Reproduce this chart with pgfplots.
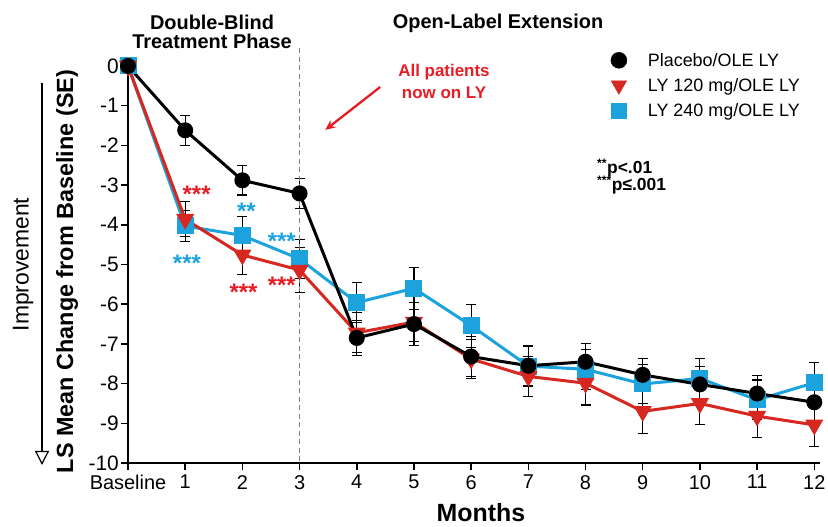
\documentclass[border=0pt]{standalone}
\usepackage{pgfplots}
\pgfplotsset{compat=1.18}
\usepackage{pgfplotstable}
\usepackage{fontspec}
\setmainfont{Liberation Sans}
\usetikzlibrary{arrows.meta}
\definecolor{lyred}{RGB}{214,40,32}
\definecolor{lyblue}{RGB}{28,163,222}
\definecolor{annred}{RGB}{232,28,36}

\pgfplotstableread{
x y e
0 0 0
1 -1.62 0.38
2 -2.88 0.37
3 -3.21 0.38
4 -6.85 0.45
5 -6.50 0.55
6 -7.32 0.50
7 -7.55 0.50
8 -7.45 0.45
9 -7.78 0.42
10 -8.02 0.45
11 -8.25 0.45
12 -8.47 0.45
}\placebo

\pgfplotstableread{
x y e
0 0 0
1 -3.86 0.44
2 -4.76 0.50
3 -5.14 0.57
4 -6.72 0.50
5 -6.45 0.50
6 -7.38 0.50
7 -7.82 0.50
8 -7.99 0.55
9 -8.70 0.55
10 -8.50 0.52
11 -8.82 0.54
12 -9.04 0.55
}\lyonetwenty

\pgfplotstableread{
x y e
0 0 0
1 -4.03 0.40
2 -4.27 0.47
3 -4.86 0.49
4 -5.96 0.50
5 -5.60 0.53
6 -6.54 0.54
7 -7.56 0.50
8 -7.64 0.50
9 -8.01 0.50
10 -7.87 0.50
11 -8.41 0.50
12 -7.98 0.50
}\lytwoforty

\begin{document}
\begin{tikzpicture}
\path[use as bounding box] (0,0) rectangle (828bp,527bp);
\begin{axis}[
  at={(128bp,64bp)}, anchor=south west,
  scale only axis, width=692bp, height=401bp,
  xmin=0, xmax=12.1, ymin=-10, ymax=0.1,
  axis x line=bottom, axis y line=left,
  axis line style={-, line width=1.8bp, black},
  xtick={0,1,2,3,4,5,6,7,8,9,10,11,12},
  xticklabels={Baseline,1,2,3,4,5,6,7,8,9,10,11,12},
  ytick={0,-1,-2,-3,-4,-5,-6,-7,-8,-9,-10},
  yticklabels={0,-1,-2,-3,-4,-5,-6,-7,-8,-9,-10},
  tick align=outside, major tick length=7bp,
  tick style={black, line width=1.5bp},
  xticklabel style={font=\fontsize{20}{22}\selectfont, inner sep=5bp},
  yticklabel style={font=\fontsize{21}{23}\selectfont, inner sep=2bp},
  clip=false,
  legend style={draw=none, fill=none, at={(axis cs:8.44,0.38)}, anchor=north west,
    font=\fontsize{18}{20}\selectfont, inner sep=0pt, row sep=6.5bp,
    nodes={inner xsep=2bp, inner ysep=2bp},
    /tikz/every odd column/.append style={column sep=19bp}},
  legend cell align=left,
  error bars/y dir=both, error bars/y explicit,
  error bars/error bar style={black, line width=1.1bp},
  error bars/error mark options={rotate=90, black, mark size=5bp, line width=1.1bp},
]
\addlegendimage{only marks, mark=*, black, mark size=8bp}
\addlegendentry{Placebo/OLE LY}
\addlegendimage{only marks, mark=triangle*, lyred, mark size=9bp, mark options={rotate=180}}
\addlegendentry{LY 120 mg/OLE LY}
\addlegendimage{only marks, mark=square*, lyblue, mark size=7.5bp}
\addlegendentry{LY 240 mg/OLE LY}

\addplot[forget plot, lyblue, line width=3bp, mark=square*, mark size=7bp, mark options={lyblue}]
  table[x=x, y=y, y error=e] {\lytwoforty};
\addplot[forget plot, lyred, line width=3bp, mark=triangle*, mark size=7.5bp, mark options={lyred, rotate=180}]
  table[x=x, y=y, y error=e] {\lyonetwenty};
\addplot[forget plot, black, line width=3bp, mark=*, mark size=6.5bp, mark options={black}]
  table[x=x, y=y, y error=e] {\placebo};

% dashed separator and annotations
\draw[gray, line width=1.7bp, dash pattern=on 5bp off 3.5bp] (axis cs:3,0.45) -- (axis cs:3,-10);
\draw[annred, line width=2.3bp, -{Stealth[length=10bp,width=9bp]}] (axis cs:4.41,-0.53) -- (axis cs:3.45,-1.61);

\begin{scope}[every node/.style={font=\bfseries\fontsize{24}{24}\selectfont, inner sep=0pt}]
\node[annred] at (axis cs:1.20,-3.22) {***};
\node[lyblue] at (axis cs:2.07,-3.67) {**};
\node[lyblue] at (axis cs:1.03,-4.96) {***};
\node[lyblue] at (axis cs:2.69,-4.42) {***};
\node[annred] at (axis cs:2.02,-5.70) {***};
\node[annred] at (axis cs:2.69,-5.53) {***};
\end{scope}

\node[anchor=base west, font=\bfseries\fontsize{17.5}{19}\selectfont, inner sep=0pt] at (axis cs:8.2,-2.72) {\textsuperscript{**}p<.01};
\node[anchor=base west, font=\bfseries\fontsize{17.5}{19}\selectfont, inner sep=0pt] at (axis cs:8.2,-3.14) {\textsuperscript{***}p≤.001};
\end{axis}

% outer labels
\node[font=\bfseries\fontsize{20}{19.5}\selectfont, align=center] at (212bp,495bp) {Double-Blind\\Treatment Phase};
\node[font=\bfseries\fontsize{20}{20}\selectfont] at (498bp,504bp) {Open-Label Extension};
\node[annred, font=\bfseries\fontsize{17}{22}\selectfont, align=center] at (444bp,446bp) {All patients\\now on LY};
\node[rotate=90, font=\bfseries\fontsize{23.5}{25}\selectfont] at (67bp,255.5bp) {LS Mean Change from Baseline (SE)};
\node[rotate=90, font=\fontsize{23}{25}\selectfont] at (23bp,262.5bp) {Improvement};
\draw[line width=1.6bp, -{Triangle[open, length=14bp, width=14bp, line width=1.2bp]}] (42bp,444bp) -- (42bp,62bp);
\node[font=\bfseries\fontsize{25}{27}\selectfont, inner sep=0pt] at (481bp,14bp) {Months};
\end{tikzpicture}
\end{document}
